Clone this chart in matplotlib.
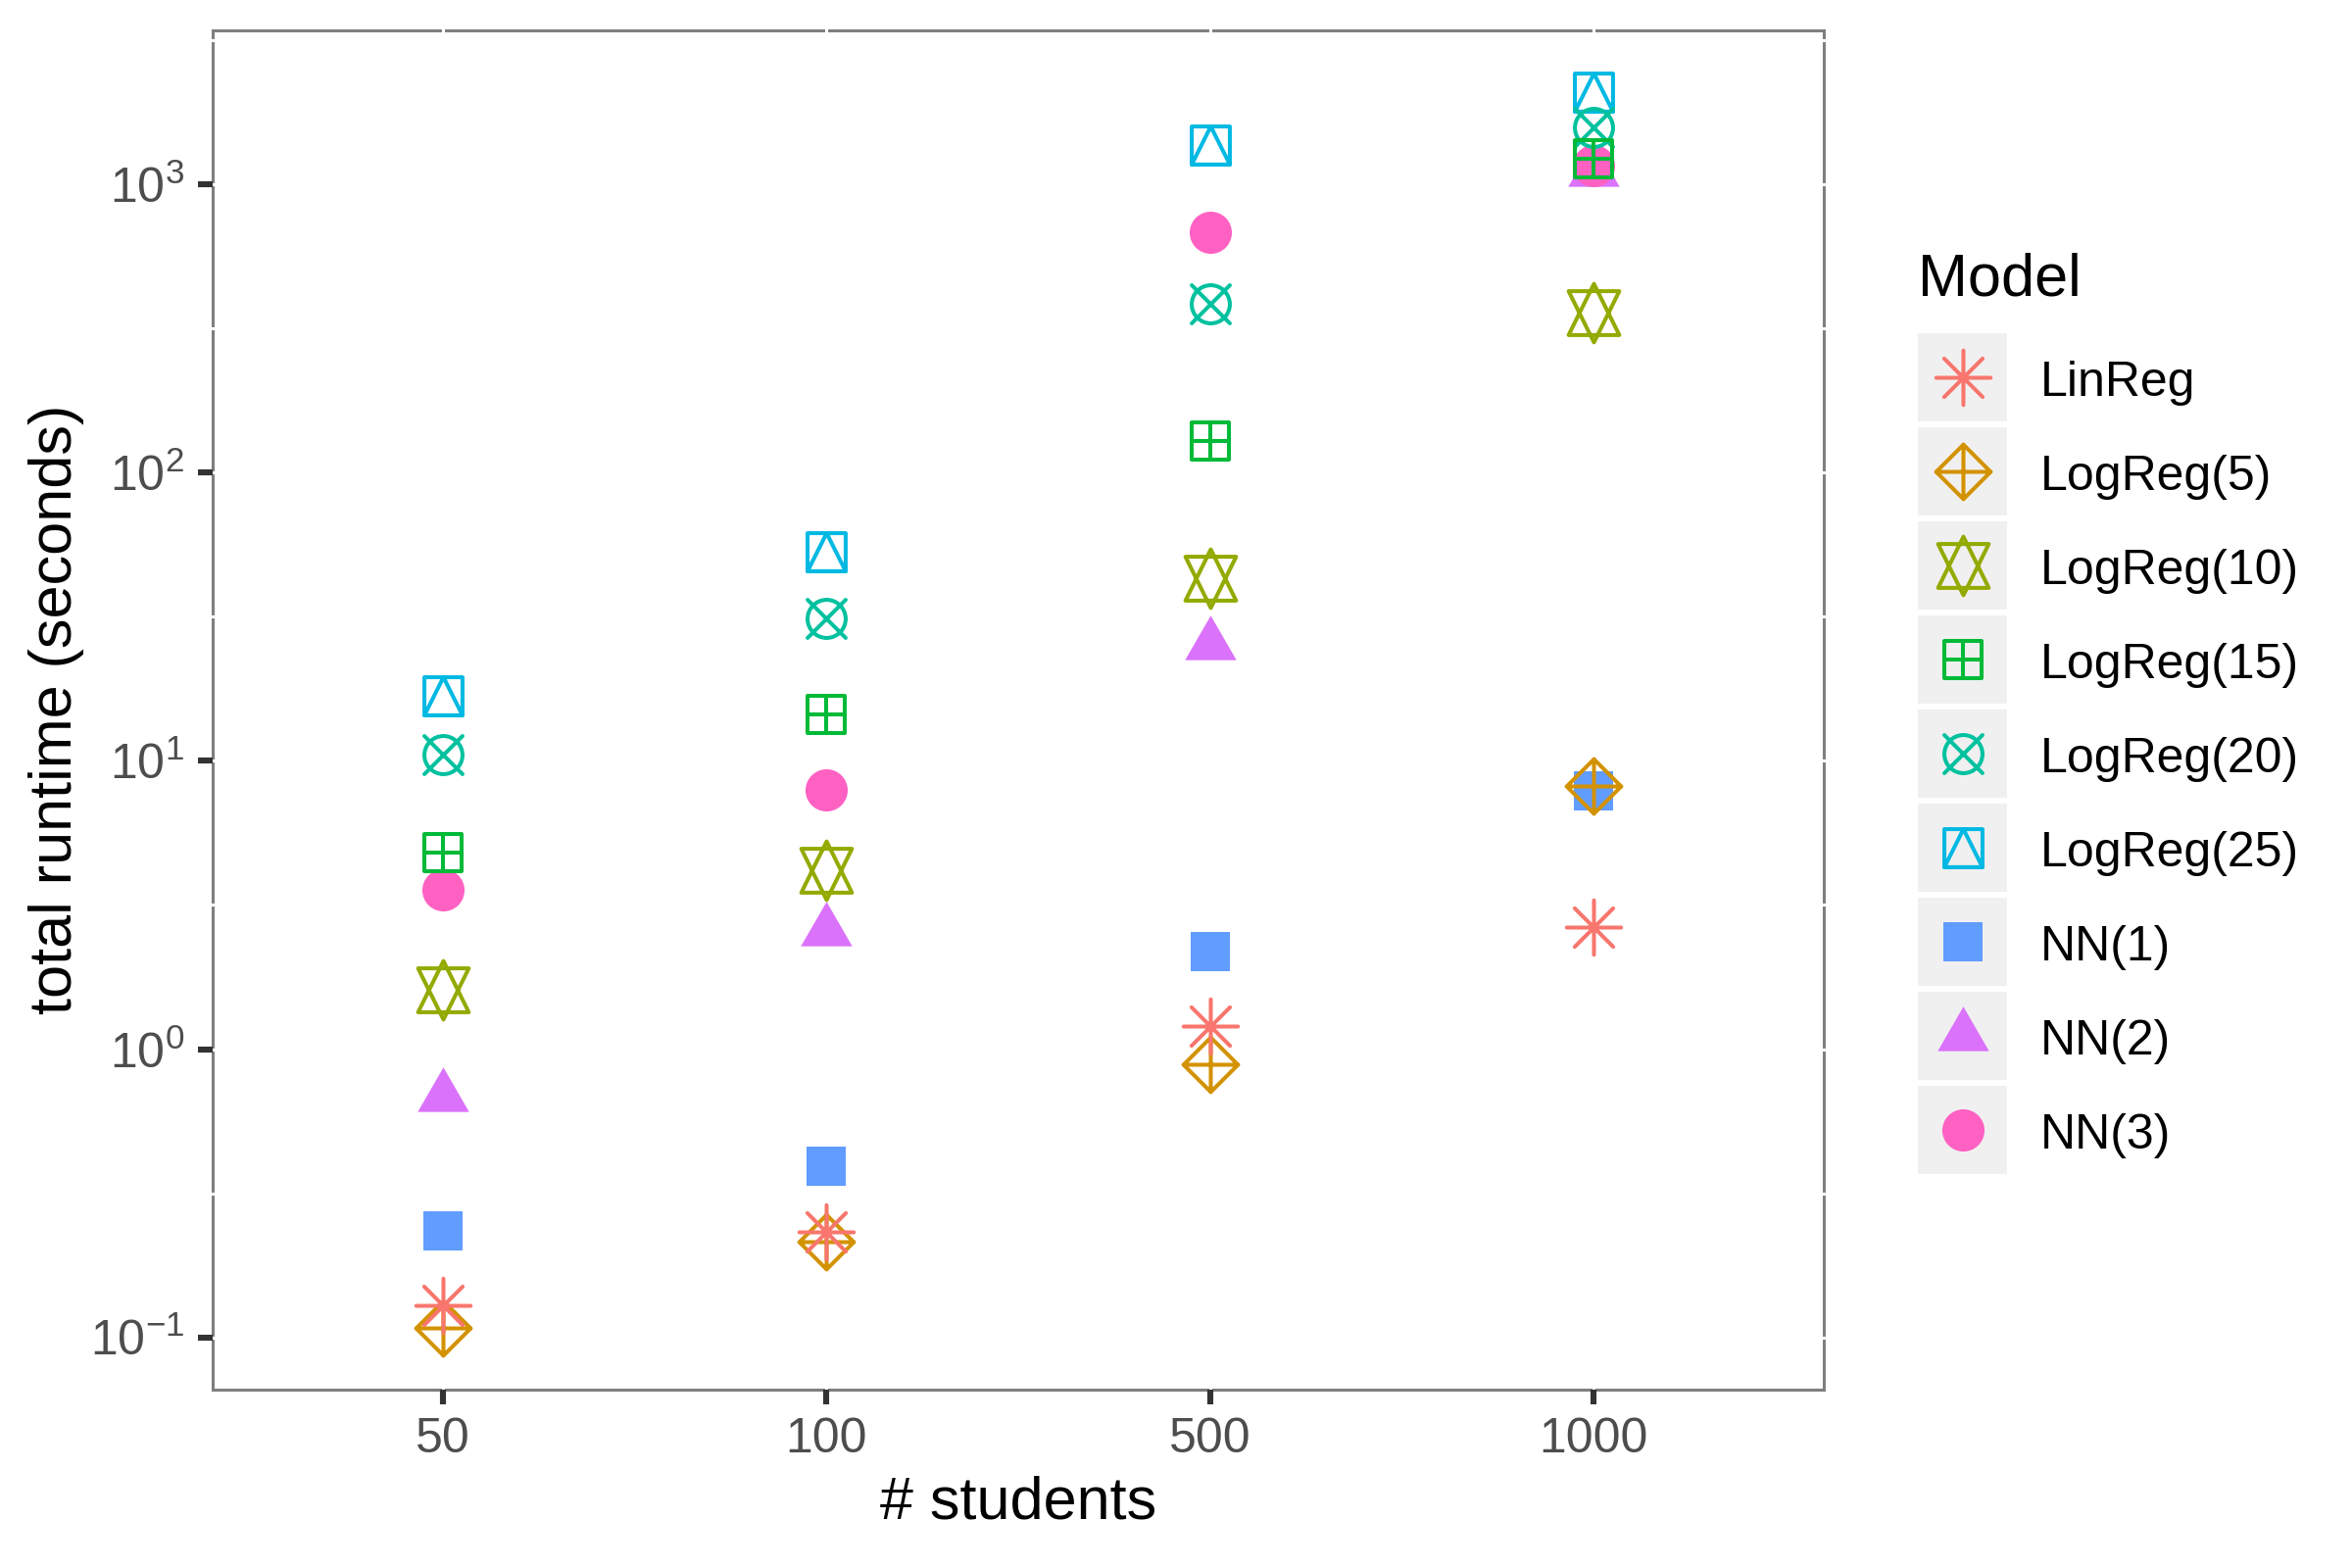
import matplotlib.pyplot as plt
import matplotlib.patches as mpatches
import numpy as np
from matplotlib.path import Path
from matplotlib.markers import MarkerStyle
from matplotlib.ticker import NullLocator

plt.rcParams['font.family'] = ['Liberation Sans', 'DejaVu Sans']
plt.rcParams['mathtext.fontset'] = 'custom'
plt.rcParams['mathtext.rm'] = 'Liberation Sans'
plt.rcParams['axes.unicode_minus'] = False

# data: total runtime (seconds) per number of students
students = ['50', '100', '500', '1000']
models = ['LinReg', 'LogReg(5)', 'LogReg(10)', 'LogReg(15)', 'LogReg(20)',
          'LogReg(25)', 'NN(1)', 'NN(2)', 'NN(3)']
linreg = [0.129, 0.233, 1.20, 2.64]
logreg5 = [0.108, 0.215, 0.887, 8.2]
logreg10 = [1.61, 4.18, 43.0, 357]
logreg15 = [4.79, 14.5, 128, 1225]
logreg20 = [10.5, 31.2, 385, 1573]
logreg25 = [16.8, 53.0, 1368, 2080]
nn1 = [0.234, 0.392, 2.17, 7.85]
nn2 = [0.682, 2.57, 25.2, 1107]
nn3 = [3.57, 7.93, 682, 1160]
values = [linreg, logreg5, logreg10, logreg15, logreg20, logreg25, nn1, nn2, nn3]

colors = ['#F8766D', '#D39200', '#93AA00', '#00BA38', '#00C19F',
          '#00B9E3', '#619CFF', '#DB72FB', '#FF61C3']


# ggplot-like point shapes built from line segments
def poly_path(polys):
    verts, codes = [], []
    for pts, closed in polys:
        verts += list(pts)
        codes += [Path.MOVETO] + [Path.LINETO] * (len(pts) - 1)
        if closed:
            verts.append(pts[0])
            codes.append(Path.CLOSEPOLY)
    return Path(verts, codes)


d = 0.7071
asterisk = poly_path([([(-1, 0), (1, 0)], False), ([(0, -1), (0, 1)], False),
                      ([(-d, -d), (d, d)], False), ([(-d, d), (d, -d)], False)])
diamond_plus = poly_path([([(1, 0), (0, 1), (-1, 0), (0, -1)], True),
                          ([(-1, 0), (1, 0)], False), ([(0, -1), (0, 1)], False)])
star = poly_path([([(0, -1), (0.866, 0.75), (-0.866, 0.75)], True),
                  ([(0, 1), (0.866, -0.75), (-0.866, -0.75)], True)])
square = [(-1, -1), (1, -1), (1, 1), (-1, 1)]
square_plus = poly_path([(square, True), ([(-1, 0), (1, 0)], False),
                         ([(0, -1), (0, 1)], False)])
circle_x = Path.make_compound_path(
    Path.unit_circle(),
    poly_path([([(-1, -1), (1, 1)], False), ([(-1, 1), (1, -1)], False)]))
square_tri = poly_path([(square, True), ([(0, 1), (1, -1), (-1, -1)], True)])
triangle = poly_path([([(0, 1), (0.866, -0.5), (-0.866, -0.5)], True)])

shapes = [asterisk, diamond_plus, star, square_plus, circle_x, square_tri,
          's', triangle, 'o']
sizes = [20, 20, 21.5, 14, 14, 14, 14.4, 21.8, 15.5]
filled = [False] * 6 + [True] * 3


def marker_kw(i):
    m = MarkerStyle(shapes[i], joinstyle='round', capstyle='round')
    if filled[i]:
        return dict(marker=m, ms=sizes[i], mfc=colors[i], mec='none', mew=0)
    return dict(marker=m, ms=sizes[i], mfc='none', mec=colors[i], mew=1.45)


fig = plt.figure(figsize=(12, 8), dpi=200)
ax = fig.add_axes([217 / 2400, 1 - 1418 / 1600, (1861 - 217) / 2400, (1418 - 31) / 1600])

x = np.arange(len(students))
order = [6, 7, 8, 5, 4, 3, 2, 1, 0]
for i in order:
    ax.plot(x, values[i], linestyle='none', zorder=3, **marker_kw(i))

ax.set_yscale('log')
allv = np.log10(np.concatenate([np.array(v, float) for v in values]))
lo, hi = allv.min(), allv.max()
pad = 0.05 * (hi - lo)
ax.set_ylim(10 ** (lo - pad), 10 ** (hi + pad))
ax.set_xlim(-0.6, len(students) - 0.4)
ax.set_xticks(x, students)
ax.set_yticks([10.0 ** k for k in range(-1, 4)])
ax.yaxis.set_minor_locator(NullLocator())

for sp in ax.spines.values():
    sp.set_color('#7F7F7F')
    sp.set_linewidth(1.1)
    sp.set_zorder(1)

# white grid lines, they cut the border like in the original
for k in np.arange(-1.5, 4.0, 0.5):
    ax.axhline(10 ** k, xmin=-0.003, xmax=1.003, color='white', lw=1.1,
               zorder=1.5, clip_on=False)
for xi in x:
    ax.axvline(xi, ymin=-0.003, ymax=1.003, color='white', lw=1.1,
               zorder=1.5, clip_on=False)

ax.tick_params(axis='both', length=5.5, width=2.2, color='#333333',
               labelsize=18, labelcolor='#4D4D4D')
ax.tick_params(axis='x', pad=4.5)
ax.tick_params(axis='y', pad=5)

fig.text(58 / 2400, 1 - 724 / 1600, 'total runtime (seconds)', rotation=90,
         ha='center', va='center', fontsize=22)
fig.text(1039 / 2400, 1 - 1534 / 1600, '# students', ha='center', va='center',
         fontsize=22)

# legend drawn by hand in pixel coordinates
lg = fig.add_axes([0, 0, 1, 1], zorder=5)
lg.set_xlim(0, 2400)
lg.set_ylim(1600, 0)
lg.axis('off')
lg.text(1957, 301, 'Model', fontsize=22, ha='left', va='baseline')
for j, name in enumerate(models):
    top = 340 + j * 96
    lg.add_patch(mpatches.Rectangle((1957, top), 91, 90, facecolor='#F0F0F0',
                                    edgecolor='none'))
    cy = top + 45
    lg.plot([2002.5], [cy], linestyle='none', **marker_kw(j))
    lg.text(2082, cy + 19.3, name, fontsize=18, ha='left', va='baseline')

fig.savefig('out.png', dpi=200)
